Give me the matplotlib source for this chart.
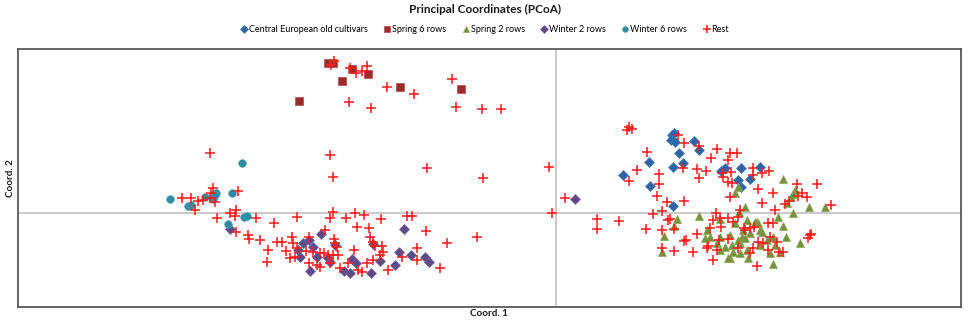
import numpy as np
import matplotlib
matplotlib.use("Agg")
import matplotlib.pyplot as plt

plt.rcParams['font.family'] = ['Lato', 'DejaVu Sans']

# PCoA scores (Coord. 1, Coord. 2)
central_x = [1.16, 1.18, 1.15, 1.19, 1.38, 1.23, 1.43, 0.93, 1.27, 1.17, 0.67, 0.94, 1.65, 1.69,
             1.85, 2.04, 1.82, 1.94, 1.85, 1.17]
central_y = [0.78, 0.80, 0.73, 0.71, 0.72, 0.60, 0.63, 0.51, 0.50, 0.46, 0.38, 0.27, 0.42, 0.45,
             0.45, 0.46, 0.33, 0.34, 0.26, 0.07]

spring6_x = [-2.28, -2.23, -2.04, -1.88, -2.14, -1.56, -0.95, -2.57]
spring6_y = [1.50, 1.50, 1.44, 1.39, 1.32, 1.26, 1.24, 1.12]

spring2_x = [2.27, 1.82, 1.79, 2.39, 2.37, 2.35, 2.31, 2.53, 2.69, 2.37, 1.89, 1.83, 1.43, 1.21,
             1.64, 1.79, 1.91, 2.01, 2.22, 2.27, 1.08, 1.06, 1.51, 1.54, 1.64, 1.74, 1.86, 1.94,
             2.04, 2.17, 2.30, 2.44, 1.69, 1.77, 1.84, 1.91, 2.04, 2.14, 2.24, 1.74, 1.92, 2.17,
             1.18, 1.49, 1.61, 1.76, 1.82, 1.89, 1.87, 1.64, 2.06, 2.11, 2.19, 1.99, 2.02, 1.72,
             1.84]
spring2_y = [0.34, 0.26, 0.20, 0.23, 0.19, 0.16, 0.10, 0.06, 0.06, 0.00, 0.06, 0.01, -0.03, -0.06,
             -0.06, -0.10, -0.07, -0.09, -0.04, -0.13, -0.23, -0.39, -0.17, -0.24, -0.24, -0.22,
             -0.24, -0.20, -0.17, -0.24, -0.24, -0.30, -0.34, -0.39, -0.30, -0.37, -0.32, -0.40,
             -0.39, -0.45, -0.45, -0.51, -0.13, -0.25, -0.30, -0.32, -0.27, -0.25, -0.17, -0.37,
             -0.19, -0.27, -0.32, -0.09, -0.10, -0.45, -0.40]

winter2_x = [-2.35, -2.53, -2.47, -2.43, -2.58, -2.56, -2.39, -2.28, -2.26, -2.21, -2.46, -2.12,
             -2.06, -2.04, -2.00, -1.85, -1.83, -1.76, -1.52, -1.57, -1.61, -1.45, -1.31, -1.27,
             -3.26, 0.19]
winter2_y = [-0.21, -0.30, -0.27, -0.34, -0.37, -0.44, -0.44, -0.45, -0.49, -0.32, -0.58, -0.58,
             -0.60, -0.46, -0.50, -0.60, -0.31, -0.48, -0.16, -0.39, -0.52, -0.42, -0.44, -0.49,
             -0.16, 0.14]

winter6_x = [-3.14, -3.86, -3.68, -3.65, -3.51, -3.40, -3.43, -3.41, -3.24, -3.12, -3.09, -3.28]
winter6_y = [0.50, 0.14, 0.07, 0.08, 0.16, 0.20, 0.14, 0.18, 0.20, -0.04, -0.03, -0.11]

rest_x = [-2.22, -2.25, -2.06, -2.00, -1.94, -1.89, -1.69, -1.42, -1.04, -2.07, -1.85, -1.00,
          -0.74, -0.55, -3.46, -2.26, -1.29, -2.23, -0.73,
          -3.74, -3.65, -3.58, -3.53, -3.46, -3.43, -3.45, -3.41, -3.61, -3.18, -3.39, -3.26,
          -3.20, -3.21, -3.00, -2.82, -3.20, -3.08, -3.07, -2.96, -2.88, -2.89, -2.79, -2.74,
          -2.70, -2.59, -2.64, -2.63, -2.66, -2.59, -2.61, -2.50, -2.47, -2.43, -2.47, -2.36,
          -2.39, -2.36, -2.32, -2.28, -2.23, -2.18, -2.21, -2.19, -2.26, -2.16, -2.22, -2.31,
          -2.23, -2.26, -2.10, -2.01, -1.92, -1.99, -2.02, -2.08, -1.98, -1.94, -1.75, -1.87,
          -1.86, -1.83, -1.81, -1.74, -1.73, -1.89, -1.83, -1.76, -1.68, -1.49, -1.44, -1.30,
          -1.39, -1.39, -1.54, -1.16, -1.09, -0.79,
          -0.07, -0.04, 0.09, 0.41, 0.41, 0.63, 0.71, 0.73, 0.76,
          0.91, 0.81, 0.73, 1.03, 1.03, 1.01, 1.11, 1.28, 0.97, 1.06, 0.90, 1.06, 1.14, 1.18,
          1.06, 1.18, 1.30, 1.37, 1.41, 1.51, 1.54, 1.57, 1.65, 1.64, 1.72, 1.84, 1.74, 1.88,
          1.98, 2.06, 2.17, 2.02, 2.12, 2.19, 2.33, 2.41, 2.46, 2.51, 2.61, 2.75, 2.54, 2.52,
          2.01, 1.57, 1.27, 1.22, 1.28, 1.43, 1.61, 1.55, 1.74, 1.81, 1.72, 1.41, 1.43, 1.50,
          1.66, 1.75, 1.72, 1.76, 1.97, 1.97, 2.13, 2.06, 1.67, 1.12, 1.28, 1.60, 1.52, 1.63,
          1.61, 1.72, 1.77, 1.82, 1.82, 1.89, 1.94, 1.97, 1.94, 2.17, 2.02, 2.07, 2.14, 2.21,
          2.12, 2.23, 2.27, 2.29, 2.42, 2.55]
rest_y = [1.52, 1.48, 1.45, 1.40, 1.42, 1.47, 1.26, 1.19, 1.34, 1.11, 1.05, 1.06,
          1.04, 1.04, 0.60, 0.58, 0.45, 0.36, 0.35,
          0.15, 0.15, 0.12, 0.13, 0.15, 0.25, 0.20, 0.11, 0.03, 0.22, -0.05, 0.00,
          0.03, -0.03, -0.05, -0.10, -0.19, -0.22, -0.26, -0.27, -0.37, -0.49, -0.29, -0.29,
          -0.38, -0.04, -0.24, -0.30, -0.45, -0.35, -0.44, -0.38, -0.24, -0.39, -0.50, -0.54,
          -0.52, -0.40, -0.40, -0.42, -0.42, -0.42, -0.30, -0.34, -0.50, -0.55, -0.26, -0.17,
          0.01, -0.05, -0.05, 0.00, -0.02, -0.14, -0.37, -0.50, -0.57, -0.59, -0.06, -0.15,
          -0.24, -0.29, -0.33, -0.33, -0.39, -0.50, -0.47, -0.42, -0.57, -0.03, -0.03, -0.18,
          -0.35, -0.47, -0.44, -0.55, -0.30, -0.24,
          0.46, 0.00, 0.15, -0.06, -0.16, -0.08, 0.83, 0.86, 0.84,
          0.61, 0.43, 0.32, 0.39, 0.29, 0.17, 0.11, 0.12, -0.01, 0.02, -0.16, -0.17, -0.06, -0.16,
          -0.35, -0.38, -0.27, -0.39, -0.21, -0.35, -0.15, -0.07, -0.14, -0.05, -0.05, 0.03, 0.16,
          -0.15, -0.14, 0.10, 0.20, 0.24, -0.10, 0.03, 0.12, 0.29, 0.20, 0.16, 0.29, 0.08, -0.22,
          -0.25, -0.53, -0.47, 0.45, 0.78, 0.70, 0.67, 0.64, 0.55, 0.60, 0.60, 0.53, 0.44, 0.35,
          0.42, 0.40, 0.41, 0.31, 0.30, 0.45, 0.38, 0.42, 0.40, 0.36, -0.07, -0.28, 0.00, -0.33,
          -0.27, -0.37, -0.26, -0.09, -0.04, -0.35, -0.17, -0.15, -0.35, -0.40, -0.10, -0.29,
          -0.30, -0.24, -0.29, -0.37, -0.39, -0.39, 0.09, 0.17, -0.21]

fig = plt.figure(figsize=(9.7, 3.22), dpi=100, facecolor='white')
ax = fig.add_axes([0.0186, 0.0466, 0.9721, 0.8012])

ax.axhline(0, color='#c0c0c0', linewidth=1.2, zorder=1)
ax.axvline(0, color='#c0c0c0', linewidth=1.2, zorder=1)

ax.plot(central_x, central_y, linestyle='none', marker='D', markersize=5, color='#2f64a6',
        markeredgecolor='#4a7bbd', markeredgewidth=0.5, label='Central European old cultivars', zorder=3)
ax.plot(spring6_x, spring6_y, linestyle='none', marker='s', markersize=5.5, color='#9c2b2b',
        markeredgecolor='#b34a4a', markeredgewidth=0.5, label='Spring 6 rows', zorder=3)
ax.plot(spring2_x, spring2_y, linestyle='none', marker='^', markersize=6, color='#76923b',
        markeredgecolor='#8aa656', markeredgewidth=0.5, label='Spring 2 rows', zorder=3)
ax.plot(winter2_x, winter2_y, linestyle='none', marker='D', markersize=5, color='#5e4a86',
        markeredgecolor='#7765a0', markeredgewidth=0.5, label='Winter 2 rows', zorder=3)
ax.plot(winter6_x, winter6_y, linestyle='none', marker='o', markersize=5.5, color='#2f8aa2',
        markeredgecolor='#4aa0b6', markeredgewidth=0.5, label='Winter 6 rows', zorder=3)
ax.plot(rest_x, rest_y, linestyle='none', marker='+', markersize=7, color='#ff1a1a',
        markeredgewidth=1.1, label='Rest', zorder=4)

ax.set_xlim(-5.38, 4.05)
ax.set_ylim(-0.94, 1.64)
ax.set_xticks([])
ax.set_yticks([])
for s in ax.spines.values():
    s.set_color('#595959')
    s.set_linewidth(1.3)

fig.text(0.5, 0.972, 'Principal Coordinates (PCoA)', ha='center', va='center',
         fontsize=8.5, fontweight='bold', color='#1a1a1a')
fig.text(0.504, 0.027, 'Coord. 1', ha='center', va='center', fontsize=7,
         fontweight='bold', color='#1a1a1a')
fig.text(0.011, 0.447, 'Coord. 2', ha='center', va='center', fontsize=7,
         fontweight='bold', color='#1a1a1a', rotation=90)

leg = fig.legend(loc='center', bbox_to_anchor=(0.5, 0.907), ncol=6, frameon=False,
                 fontsize=6.5, markerscale=0.75, handlelength=0.7, handletextpad=0.2,
                 columnspacing=1.8)

fig.savefig('out.png', dpi=100, facecolor='white')
